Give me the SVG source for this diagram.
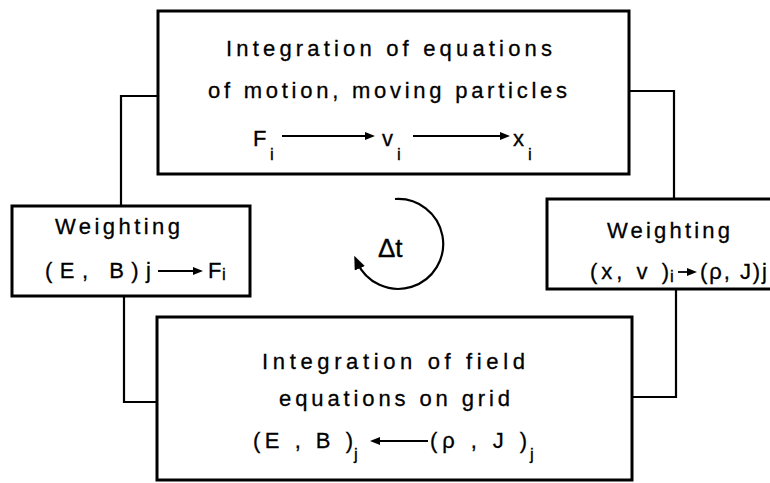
<svg xmlns="http://www.w3.org/2000/svg" width="770" height="483" viewBox="0 0 770 483">
<style>
.box{fill:#fff;stroke:#000;stroke-width:3}
.conn{fill:none;stroke:#000;stroke-width:2.2}
.t{font-family:"Liberation Sans",Arial,sans-serif;font-size:22px;fill:#000;stroke:#000;stroke-width:0.3}
.s{font-family:"Liberation Sans",Arial,sans-serif;font-size:17px;fill:#000;stroke:#000;stroke-width:0.3}
.dt{font-family:"Liberation Sans",Arial,sans-serif;font-size:26px;fill:#000;stroke:#000;stroke-width:0.4}
.ar{fill:none;stroke:#000;stroke-width:1.8}
</style>
<defs>
<marker id="ah" viewBox="0 0 10 8" refX="7" refY="4" markerWidth="11" markerHeight="8" markerUnits="userSpaceOnUse" orient="auto">
<path d="M0,0 L10,4 L0,8 Z" fill="#000"/>
</marker>
<marker id="ahbig" viewBox="0 0 10 8" refX="5" refY="4" markerWidth="14" markerHeight="11" markerUnits="userSpaceOnUse" orient="auto">
<path d="M0,0 L10,4 L0,8 Z" fill="#000"/>
</marker>
</defs>
<rect width="770" height="483" fill="#fff"/>
<g id="connectors">
<polyline class="conn" points="158,96 121,96 121,206"/>
<polyline class="conn" points="124,296 124,402 157,402"/>
<polyline class="conn" points="632,397 676,397 676,289"/>
<polyline class="conn" points="674,199 674,91 629,91"/>
</g>
<g id="particles">
<rect class="box" x="158" y="11" width="471" height="163"/>
<text class="t" x="226" y="56" textLength="326" lengthAdjust="spacing">Integration of equations</text>
<text class="t" x="208" y="98" textLength="359" lengthAdjust="spacing">of motion, moving particles</text>
<text class="t" x="253" y="146">F</text>
<text class="s" x="270" y="160">i</text>
<line class="ar" x1="282" y1="136" x2="372" y2="136" marker-end="url(#ah)"/>
<text class="t" x="382" y="146">v</text>
<text class="s" x="397" y="160">i</text>
<line class="ar" x1="413" y1="136" x2="507" y2="136" marker-end="url(#ah)"/>
<text class="t" x="513" y="146">x</text>
<text class="s" x="528" y="160">i</text>
</g>
<g id="weight-left">
<rect class="box" x="12" y="206" width="238" height="90"/>
<text class="t" x="55" y="234" textLength="125" lengthAdjust="spacing">Weighting</text>
<text class="t" x="45" y="278" textLength="106" lengthAdjust="spacing">(E, B)j</text>
<line class="ar" x1="158" y1="271" x2="200" y2="271" marker-end="url(#ah)"/>
<text class="t" x="208" y="278">F</text>
<text class="s" x="222" y="280">i</text>
</g>
<g id="weight-right">
<rect class="box" x="547" y="199" width="230" height="90"/>
<text class="t" x="607" y="238" textLength="123" lengthAdjust="spacing">Weighting</text>
<text class="t" x="590" y="279" textLength="79" lengthAdjust="spacing">(x, v )</text>
<text class="s" x="670" y="282">i</text>
<line class="ar" x1="678" y1="272" x2="694" y2="272" marker-end="url(#ah)"/>
<text class="t" x="700" y="279" textLength="67" lengthAdjust="spacing">(ρ, J)j</text>
</g>
<g id="field">
<rect class="box" x="157" y="317" width="475" height="163"/>
<text class="t" x="262" y="369" textLength="263" lengthAdjust="spacing">Integration of field</text>
<text class="t" x="279" y="406" textLength="231" lengthAdjust="spacing">equations on grid</text>
<text class="t" x="253" y="448" textLength="100" lengthAdjust="spacing">(E , B )</text>
<text class="s" x="354" y="460">j</text>
<line class="ar" x1="428" y1="441" x2="373" y2="441" marker-end="url(#ah)"/>
<text class="t" x="430" y="448" textLength="97" lengthAdjust="spacing">(ρ , J )</text>
<text class="s" x="530" y="460">j</text>
</g>
<g id="timestep">
<path class="conn" d="M395,199 A45,45 0 1 1 357,262" marker-end="url(#ahbig)"/>
<text class="dt" x="378" y="257">Δt</text>
</g>
</svg>
